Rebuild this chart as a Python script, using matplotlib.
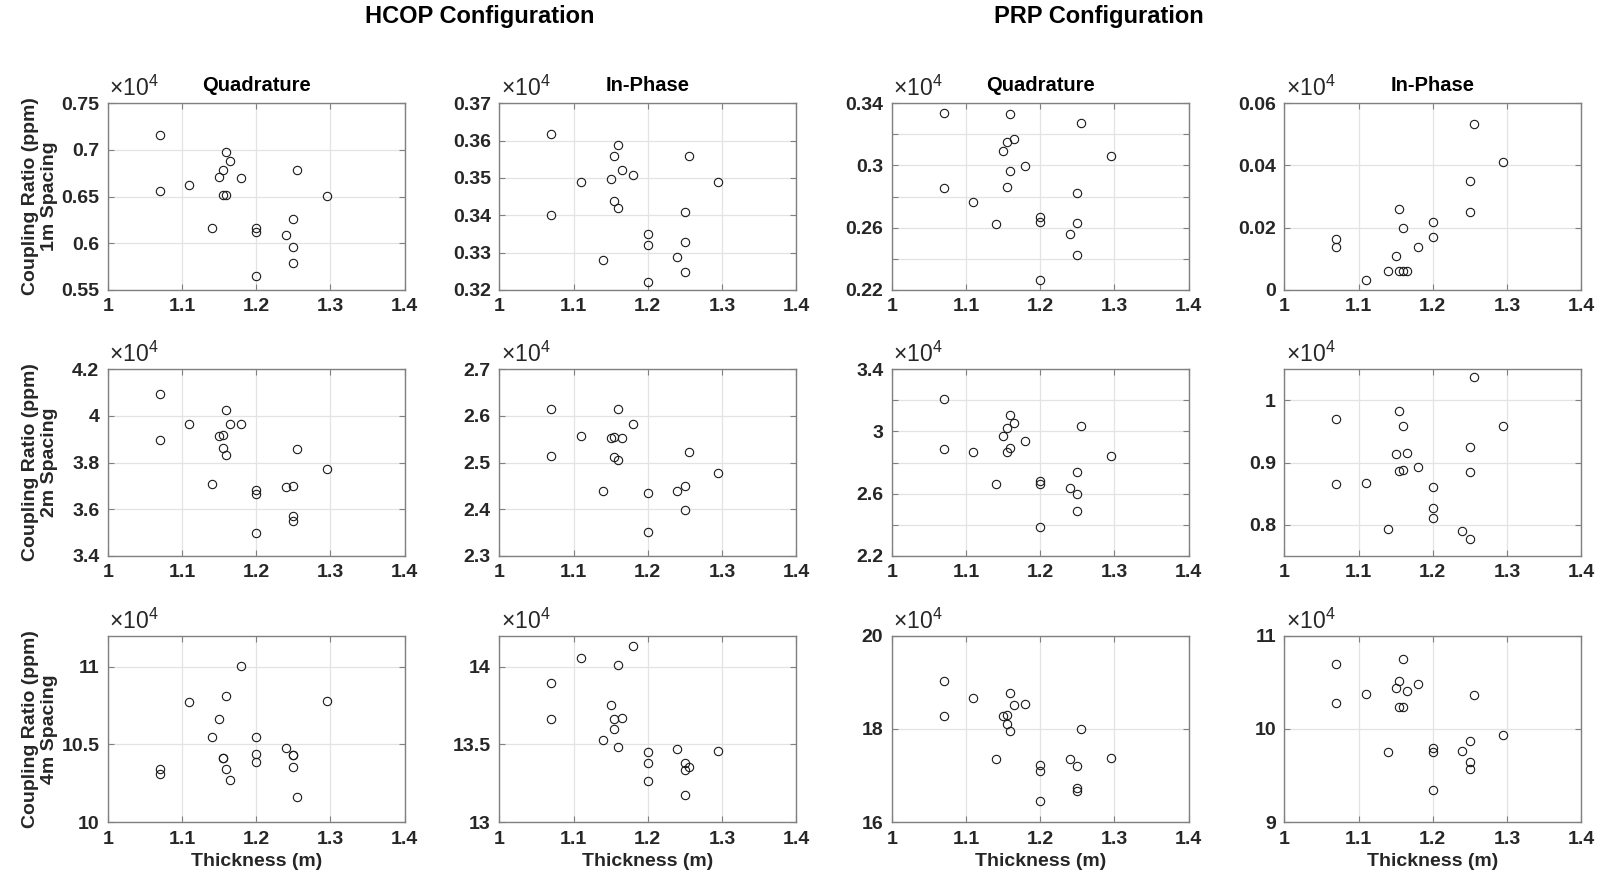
import numpy as np
import matplotlib
matplotlib.use("Agg")
import matplotlib.pyplot as plt
from matplotlib.ticker import FuncFormatter

plt.rcParams['font.family'] = ['Liberation Sans', 'DejaVu Sans']
plt.rcParams['font.weight'] = 'bold'
plt.rcParams['mathtext.fontset'] = 'custom'
plt.rcParams['mathtext.rm'] = 'Liberation Sans'

# thickness of each sample (m)
thickness = [1.07, 1.07, 1.11, 1.14, 1.15, 1.155, 1.155, 1.16, 1.16, 1.165,
             1.18, 1.20, 1.20, 1.20, 1.24, 1.25, 1.25, 1.25, 1.255, 1.295]

# coupling ratios, in units of 1e4 ppm (nan = not visible in the figure)
hcop_q_1m = [0.716, 0.656, 0.662, 0.616, 0.671, 0.678, 0.652, 0.652, 0.698, 0.688,
             0.670, 0.616, 0.612, 0.565, 0.609, 0.626, 0.596, 0.579, 0.679, 0.651]
hcop_ip_1m = [0.3618, 0.3400, 0.3490, 0.3281, 0.3498, 0.3559, 0.3439, 0.3588, 0.3418, 0.3520,
              0.3508, 0.3350, 0.3320, 0.3220, 0.3289, 0.3409, 0.3329, 0.3249, 0.3559, 0.3490]
prp_q_1m = [0.3335, 0.2853, 0.2764, 0.2622, 0.3091, 0.3151, 0.2859, 0.3329, 0.2963, 0.3169,
            0.2996, 0.2669, 0.2635, 0.2265, 0.2557, 0.2822, 0.2628, 0.2423, 0.3272, 0.3060]
prp_ip_1m = [0.0163, 0.0138, 0.0031, 0.0059, 0.0110, 0.0261, 0.0059, 0.0199, 0.0059, 0.0059,
             0.0139, 0.0219, 0.0171, np.nan, np.nan, 0.0350, 0.0251, np.nan, 0.0532, 0.0411]

hcop_q_2m = [4.096, 3.896, 3.964, 3.709, 3.916, 3.920, 3.863, 4.027, 3.831, 3.967,
             3.964, 3.683, 3.664, 3.497, 3.696, 3.700, 3.569, 3.550, 3.857, 3.773]
hcop_ip_2m = [2.6157, 2.5136, 2.5579, 2.4393, 2.5536, 2.5557, 2.5114, 2.6157, 2.5050, 2.5521,
              2.5821, 2.4350, 2.3507, np.nan, 2.4393, 2.4500, 2.3993, np.nan, 2.5221, 2.4779]
prp_q_2m = [3.206, 2.884, 2.871, 2.660, 2.968, 3.020, 2.869, 3.104, 2.893, 3.057,
            2.936, 2.681, 2.660, 2.383, 2.634, 2.742, 2.597, 2.491, 3.037, 2.839]
prp_ip_2m = [0.9697, 0.8654, 0.8665, 0.7930, 0.9135, 0.9827, 0.8859, 0.9584, 0.8881, 0.9151,
             0.8924, 0.8605, 0.8270, 0.8108, 0.7897, 0.9249, 0.8843, 0.7768, 1.0373, 0.9584]

hcop_q_4m = [10.342, 10.308, 10.771, 10.551, 10.662, 10.415, 10.415, 10.810, 10.340, 10.269,
             11.002, 10.551, 10.436, 10.385, 10.479, 10.432, 10.432, 10.353, 10.162, 10.778]
hcop_ip_4m = [13.897, 13.667, 14.058, 13.530, 13.755, 13.661, 13.597, 14.013, 13.481, 13.672,
              14.133, 13.451, 13.380, 13.264, 13.468, 13.382, 13.335, 13.174, 13.356, 13.457]
prp_q_4m = [19.039, 18.272, 18.674, 17.362, 18.272, 18.294, 18.100, 18.781, 17.957, 18.523,
            18.530, 17.233, 17.097, 16.459, 17.362, 17.204, 16.731, 16.667, 18.000, 17.376]
prp_ip_4m = [10.692, 10.276, 10.373, 9.753, 10.434, 10.509, 10.233, 10.746, 10.233, 10.412,
             10.480, 9.796, 9.753, 9.348, 9.767, 9.871, 9.645, 9.573, 10.369, 9.932]

col_titles = ['Quadrature', 'In-Phase', 'Quadrature', 'In-Phase']
row_labels = ['1m Spacing', '2m Spacing', '4m Spacing']
group_titles = ['HCOP Configuration', 'PRP Configuration']

panels = [
    [hcop_q_1m, hcop_ip_1m, prp_q_1m, prp_ip_1m],
    [hcop_q_2m, hcop_ip_2m, prp_q_2m, prp_ip_2m],
    [hcop_q_4m, hcop_ip_4m, prp_q_4m, prp_ip_4m],
]
# (ymin, ymax, tick step, label every n-th tick)
yaxes = [
    [(0.55, 0.75, 0.05, 1), (0.32, 0.37, 0.01, 1), (0.22, 0.34, 0.02, 2), (0.0, 0.06, 0.02, 1)],
    [(3.4, 4.2, 0.2, 1), (2.3, 2.7, 0.1, 1), (2.2, 3.4, 0.2, 2), (0.75, 1.05, 0.1, 1)],
    [(10.0, 11.2, 0.5, 1), (13.0, 14.2, 0.5, 1), (16.0, 20.0, 2.0, 1), (9.0, 11.0, 1.0, 1)],
]


def num(v):
    v = round(v, 6) + 0.0
    return '0' if abs(v) < 1e-9 else '%g' % v


W, H = 1606, 886
fig = plt.figure(figsize=(W / 100, H / 100), dpi=100)

lefts = [107.7, 499.3, 891.7, 1284.3]
tops = [103.3, 369.3, 635.7]
aw, ah = 297, 186.5
txt = '#262626'
fmt = FuncFormatter(lambda v, p: num(v))

for r in range(3):
    for c in range(4):
        ax = fig.add_axes([lefts[c] / W, 1 - (tops[r] + ah) / H, aw / W, ah / H])
        ax.plot(thickness, panels[r][c], 'o', mfc='none', mec='#1a1a1a',
                ms=6, mew=0.8, ls='none')
        ax.set_xlim(1, 1.4)
        ax.set_xticks(np.arange(1, 1.41, 0.1))
        ax.xaxis.set_major_formatter(fmt)

        y0, y1, step, every = yaxes[r][c]
        ax.set_ylim(y0, y1)
        first = np.ceil(y0 / step - 1e-6) * step
        yt = np.arange(first, y1 + step * 0.01, step)
        ax.set_yticks(yt)
        if every > 1:
            ax.set_yticklabels([num(v) if i % every == 0 else ''
                                for i, v in enumerate(yt)])
        else:
            ax.yaxis.set_major_formatter(fmt)

        ax.grid(True, color='#e3e3e3', lw=0.9)
        ax.set_axisbelow(True)
        for s in ax.spines.values():
            s.set_color('#808080')
            s.set_linewidth(1.0)
        ax.tick_params(direction='in', length=4, width=0.8, color='#808080',
                       labelsize=14, labelcolor=txt, top=True, right=True, pad=6)
        for lab in ax.get_xticklabels() + ax.get_yticklabels():
            lab.set_fontweight('bold')

        ax.text(0.005, 1.012, r'$\mathregular{\times 10^4}$', transform=ax.transAxes,
                fontsize=16.5, fontweight='normal', color=txt, ha='left', va='bottom')

        if r == 0:
            ax.set_title(col_titles[c], fontsize=14.5, fontweight='bold', pad=9)
        if r == 2:
            ax.set_xlabel('Thickness (m)', fontsize=14, fontweight='bold', color=txt)
        if c == 0:
            ax.set_ylabel('Coupling Ratio (ppm)\n' + row_labels[r], fontsize=14,
                          fontweight='bold', color=txt, linespacing=1.2)
            ax.yaxis.set_label_coords(-0.167, 0.5)

fig.text(480 / W, 1 - 17 / H, group_titles[0], fontsize=17, fontweight='bold',
         ha='center', va='center')
fig.text(1099 / W, 1 - 17 / H, group_titles[1], fontsize=17, fontweight='bold',
         ha='center', va='center')

fig.savefig('out.png', dpi=100)
